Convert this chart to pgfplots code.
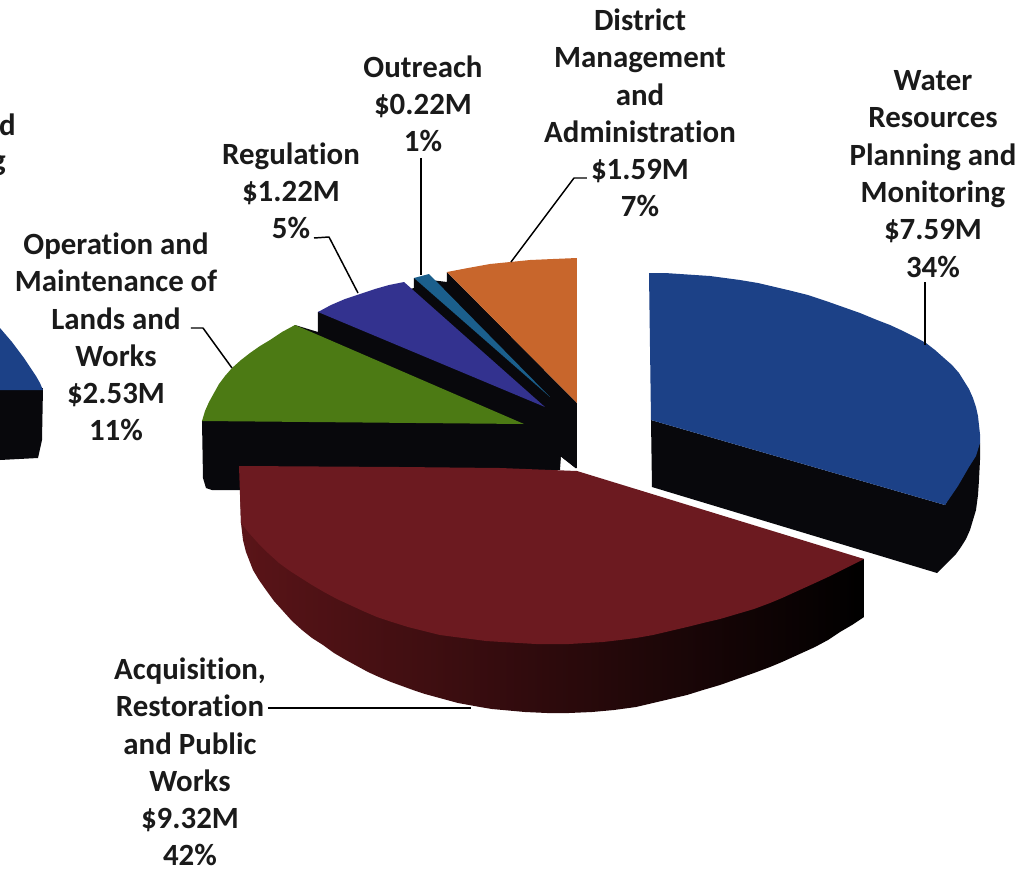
\documentclass[border=0pt]{standalone}
\usepackage{pgfplots}
\pgfplotsset{compat=1.18}
\usepackage{fontspec}
\setmainfont{Carlito}[Ligatures=NoCommon]
\definecolor{sliceblue}{HTML}{1C4187}
\definecolor{slicered}{HTML}{6C1A20}
\definecolor{sidered}{HTML}{5A1418}
\definecolor{slicegreen}{HTML}{4C7A14}
\definecolor{sliceviolet}{HTML}{33328F}
\definecolor{sliceteal}{HTML}{1B5F8C}
\definecolor{sliceorange}{HTML}{C8662C}
\definecolor{sidedark}{HTML}{08080C}
\definecolor{labelink}{HTML}{1A1A1A}
\tikzset{slicelabel/.style={font=\fontsize{31}{37.4}\selectfont\bfseries, align=center, text=labelink, inner sep=0pt}}
\pgfplotsset{leader/.style={black, line width=1.5pt, line join=round}}
\begin{document}
\begin{tikzpicture}
\clip (0,0) rectangle (1036bp,869bp);
\begin{axis}[
  at={(0,0)}, anchor=south west,
  width=1036bp, height=869bp, scale only axis,
  xmin=0, xmax=1036, ymin=0, ymax=869, y dir=reverse,
  hide axis, clip=false,
]
% Water Resources wedge running off the left edge of the page
\addplot[fill=sidedark, draw=none] coordinates {(0,388) (43,388) (42,440) (38,458) (0,460)} --cycle;
\addplot[fill=sliceblue, draw=none] coordinates {(0,328) (6,335) (12,342) (18,350) (24,358) (30,367) (36,376) (40,383) (43,390) (0,390)} --cycle;

% Dark block beneath the back slices
\addplot[fill=sidedark, draw=none] coordinates {(202,421) (203,478) (206,488) (212,490) (245,490) (560,470) (561,457) (575,468) (577,468) (577,403) (447,272) (447,282) (414,278) (414,288) (318,312) (318,332) (295,325) (202,421)} --cycle;
\addplot[fill=white, draw=none] coordinates {(561,457) (561,468) (575,468)} --cycle;

% Operation and Maintenance top face
\addplot[fill=slicegreen, draw=none] coordinates {(295,325) (282,332) (270,340) (260,346) (250,353) (241,360) (232,368) (225,376) (219,384) (214,393) (209,402) (205,411) (202,421) (524,424)} --cycle;
% Regulation top face
\addplot[fill=sliceviolet, draw=none] coordinates {(318,312) (331,305) (345,299) (360,294) (375,289) (389,285) (404,282) (545,407)} --cycle;
% Outreach top face
\addplot[fill=sliceteal, draw=none] coordinates {(414,278) (429,274) (550,397)} --cycle;
% District Management top face
\addplot[fill=sliceorange, draw=none] coordinates {(447,272) (468,268) (490,264) (510,262) (530,260) (553,259) (577,258) (577,403)} --cycle;

% Water Resources side wall and top face
\addplot[fill=sidedark, draw=none] coordinates {(651,420) (652,487) (937,573) (944,566) (950,560) (956,554) (961,547) (966,539) (970,530) (973,520) (976,510) (978,495) (979,480) (980,460) (980,443) (945,505)} --cycle;
\addplot[fill=sliceblue, draw=none] coordinates {(649,273) (665,273) (680,274) (695,275) (710,276) (725,278) (740,280) (758,283) (775,287) (792,291) (808,295) (826,301) (843,307) (860,313) (877,320) (890,325) (903,331) (915,337) (926,343) (935,350) (944,358) (952,365) (959,373) (964,381) (969,389) (973,398) (976,407) (978,416) (979,425) (980,434) (980,443) (976,456) (969,467) (958,486) (945,505) (651,420)} --cycle;

% Acquisition side wall, with the lit edge fading into black
\addplot[left color=sidered, middle color=black, right color=black, draw=none] coordinates {(240,490) (241,523) (243,540) (246,552) (253,570) (259,580) (266,590) (274,601) (283,611) (292,621) (302,630) (312,638) (323,645) (334,653) (346,660) (357,666) (368,672) (379,677) (391,682) (402,686) (413,690) (425,694) (436,697) (447,700) (458,703) (469,705) (480,707) (492,709) (503,710) (514,711) (525,712) (547,713) (569,713) (592,712) (614,710) (636,707) (653,703) (670,699) (687,695) (703,690) (720,685) (737,679) (754,673) (770,667) (782,662) (793,657) (804,652) (815,647) (828,640) (840,632) (852,625) (864,617) (864,559) (600,520)} --cycle;
% Acquisition top face
\addplot[fill=slicered, draw=none] coordinates {(239,466) (400,467) (500,468) (577,471) (864,559) (852,565) (840,571) (828,577) (815,583) (804,588) (793,593) (782,598) (770,603) (754,609) (737,614) (720,619) (703,623) (687,627) (670,631) (653,635) (636,638) (620,640) (603,642) (586,643) (569,644) (552,644) (536,644) (519,643) (502,642) (486,641) (471,639) (455,637) (440,635) (424,631) (408,627) (392,622) (377,617) (363,611) (350,605) (337,599) (324,592) (312,585) (301,578) (290,571) (279,563) (268,553) (258,543) (249,533) (241,523)} --cycle;

% Leader lines
\addplot[leader] coordinates {(925,282) (925,345)};
\addplot[leader] coordinates {(511,262) (574,178) (587,178)};
\addplot[leader] coordinates {(421,158) (421,275)};
\addplot[leader] coordinates {(314,238) (329,237) (358,293)};
\addplot[leader] coordinates {(191,328) (203,328) (232,368)};
\addplot[leader] coordinates {(268,708) (471,708)};

% Slice labels
\node[slicelabel] at (axis cs:933,174) {Water\\Resources\\Planning and\\Monitoring\\\$7.59M\\34\%};
\node[slicelabel] at (axis cs:640,113) {District\\Management\\and\\Administration\\\$1.59M\\7\%};
\node[slicelabel] at (axis cs:423,104) {Outreach\\\$0.22M\\1\%};
\node[slicelabel] at (axis cs:291,191) {Regulation\\\$1.22M\\5\%};
\node[slicelabel] at (axis cs:116,337) {Operation and\\Maintenance of\\Lands and\\Works\\\$2.53M\\11\%};
\node[slicelabel] at (axis cs:190,762) {Acquisition,\\Restoration\\and Public\\Works\\\$9.32M\\42\%};
\node[slicelabel,anchor=east] at (axis cs:16,125) {and};
\node[slicelabel,anchor=east] at (axis cs:6,162) {Planning};
\end{axis}
\end{tikzpicture}
\end{document}
